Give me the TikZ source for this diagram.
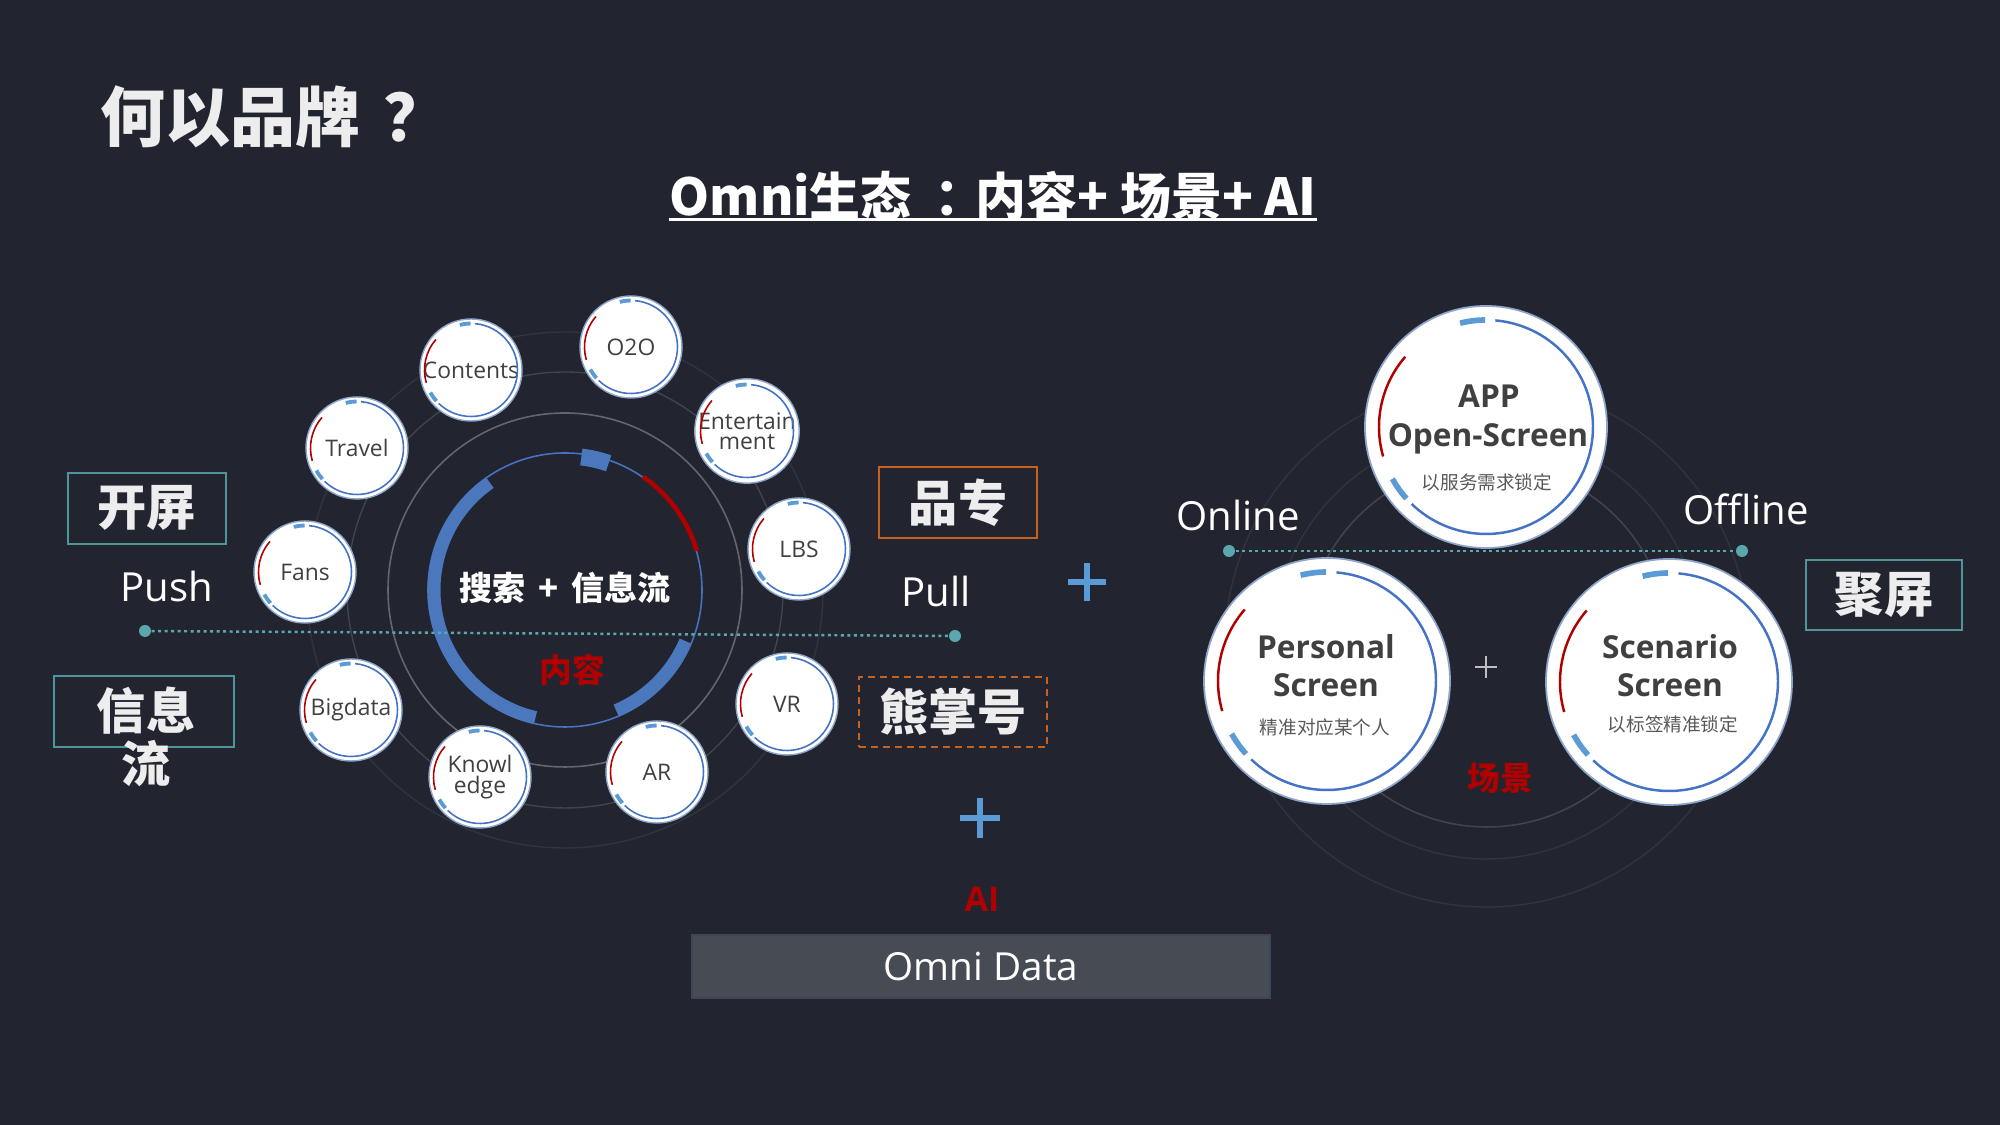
\documentclass[tikz,border=0pt]{standalone}
\usepackage{fontspec}
\setmainfont{Open Sans}
\newfontfamily\cjk{Noto Sans CJK SC}
\usetikzlibrary{calc}

\definecolor{bgnavy}{HTML}{22252F}
\definecolor{ringblue}{HTML}{4472C4}
\definecolor{arcblue}{HTML}{4B77BD}
\definecolor{lightblue}{HTML}{5B9BD5}
\definecolor{deepred}{HTML}{B00000}
\definecolor{ringgray}{HTML}{63666E}
\definecolor{faintgray}{HTML}{41444C}
\definecolor{dimgray}{HTML}{31343D}
\definecolor{tealline}{HTML}{4E969B}
\definecolor{dotteal}{HTML}{5AA7AE}
\definecolor{orangeline}{HTML}{C5631E}
\definecolor{txtgray}{HTML}{404040}
\definecolor{subgray}{HTML}{595959}
\definecolor{bubedge}{HTML}{8FA6CC}
\definecolor{datafill}{HTML}{474B54}
\definecolor{dataedge}{HTML}{3B4659}
\definecolor{plusgray}{HTML}{BFBFBF}
\definecolor{chalk}{HTML}{EDEDED}

\tikzset{
  bubble/.style={circle, fill=white, draw=bubedge, line width=0.4pt, minimum size=10.2mm, inner sep=0pt,
    text=txtgray, align=center, font=\fontsize{6.5}{5.8}\selectfont},
  bigbubble/.style={circle, fill=white, draw=bubedge, line width=0.5pt, minimum size=24.6mm, inner sep=0pt},
  bigtitle/.style={anchor=base, inner sep=0pt, text=txtgray, font=\bfseries\fontsize{9}{10}\selectfont},
  bignote/.style={anchor=base, inner sep=0pt, text=subgray, font=\cjk\fontsize{5.3}{6}\selectfont},
  tagbox/.style={draw=tealline, line width=0.6pt, minimum width=15.8mm, minimum height=7.1mm, inner sep=0pt,
    text=chalk, font=\cjk\bfseries\fontsize{14}{15.1}\selectfont},
  orangebox/.style={tagbox, draw=orangeline},
  sidelabel/.style={anchor=base, inner sep=0pt, text=white, font=\fontsize{11.4}{13}\selectfont},
  redmark/.style={inner sep=0pt, text=deepred, font=\cjk\bfseries\fontsize{9.3}{10}\selectfont},
  dotend/.style={circle, fill=dotteal, minimum size=1.2mm, inner sep=0pt},
  dotline/.style={dotteal, line width=0.7pt, dash pattern=on 0.85pt off 1pt},
  databar/.style={fill=datafill, draw=dataedge, line width=0.4pt, minimum width=57.8mm, minimum height=6.3mm,
    inner sep=0pt, text=white, font=\fontsize{11}{13}\selectfont}
}

\newcommand{\ringmarks}[4]{%
  \draw[ringblue, line width=#3] ([shift={(85:#2)}]#1.center) arc[start angle=85, end angle=-134, radius=#2];
  \draw[lightblue, line width=#4] ([shift={(90.5:#2)}]#1.center) arc[start angle=90.5, end angle=104, radius=#2];
  \draw[lightblue, line width=#4] ([shift={(209:#2)}]#1.center) arc[start angle=209, end angle=222, radius=#2];
  \draw[deepred, line width=#3] ([shift={(139:#2)}]#1.center) arc[start angle=139, end angle=196, radius=#2];
}
\newcommand{\plussign}[4]{%
  \draw[#4] (#1-#3,#2) -- (#1+#3,#2) (#1,#2-#3) -- (#1,#2+#3);
}

\begin{document}
\begin{tikzpicture}[x=0.1mm, y=0.1mm]
\useasboundingbox (0,0) rectangle (2000,1125);
\fill[bgnavy] (0,0) rectangle (2000,1125);

\node[anchor=west, inner sep=0pt, text=chalk, font=\cjk\bfseries\fontsize{18.5}{20}\selectfont] (question) at (100,1008) {何以品牌\hspace{0.35em}？};
\node[anchor=base, inner sep=0pt, text=white, font=\cjk\bfseries\fontsize{14.5}{16}\selectfont] (omnihead) at (993,909) {Omni生态\hspace{0.45em}：\hspace{-0.2em}内容+ 场景+ AI};
\draw[white, line width=0.85pt] ($(omnihead.base west)+(0,-4)$) -- ($(omnihead.base east)+(0,-4)$);

\coordinate (hub) at (565,535);
\draw[dimgray, line width=0.4pt] (hub) circle[radius=25.8mm];
\draw[faintgray, line width=0.4pt] (hub) circle[radius=21.8mm];
\draw[ringgray, line width=0.45pt] (hub) circle[radius=17.7mm];
\draw[ringblue, line width=0.45pt] (hub) circle[radius=13.7mm];
\draw[arcblue, line width=3.7pt] ([shift={(125:13.1mm)}]hub) arc[start angle=125, end angle=257, radius=13.1mm];
\draw[arcblue, line width=3.7pt] ([shift={(-67:13.1mm)}]hub) arc[start angle=-67, end angle=-23, radius=13.1mm];
\draw[arcblue, line width=4.8pt] ([shift={(71:13.4mm)}]hub) arc[start angle=71, end angle=83, radius=13.4mm];
\draw[deepred, line width=1.3pt] ([shift={(16.5:13.75mm)}]hub) arc[start angle=16.5, end angle=55.5, radius=13.75mm];

\node[text=white, font=\cjk\bfseries\fontsize{9.4}{10}\selectfont] (search) at (565,537) {搜索\hspace{0.4em}+\hspace{0.4em}信息流};
\node[redmark] (neirong) at (572,455) {内容};

\node[bubble] (contents) at (471,755) {Contents};
\node[bubble] (o2o) at (631,778) {O2O};
\node[bubble] (entertain) at (747,694) {Entertain\\ment};
\node[bubble] (lbs) at (799,576) {LBS};
\node[bubble] (vr) at (787,421) {VR};
\node[bubble] (ar) at (657,353) {AR};
\node[bubble] (knowledge) at (480,348) {Knowl\\edge};
\node[bubble] (bigdata) at (351,415) {Bigdata};
\node[bubble] (fans) at (305,553) {Fans};
\node[bubble] (travel) at (357,677) {Travel};
\foreach \b in {contents,o2o,entertain,lbs,vr,ar,knowledge,bigdata,fans,travel}
  {\ringmarks{\b}{4.65mm}{0.45pt}{1.1pt}}

\node[tagbox] (kaiping) at (147,616.5) {开屏};
\node[tagbox, minimum width=18mm] (xinxibox) at (144,413.5) {};
\node[text=chalk, align=center, font=\cjk\bfseries\fontsize{14}{15.1}\selectfont] (xinxi) at (146,388) {信息\\流};
\node[orangebox] (pinzhuan) at (958,622.5) {品专};
\node[orangebox, dash pattern=on 2pt off 1.4pt, minimum width=18.8mm, minimum height=7mm] (xiongzhang) at (953,413) {熊掌号};

\node[sidelabel] (push) at (167,523) {Push};
\node[sidelabel] (pull) at (936,518) {Pull};
\node[dotend] (pushdot) at (145,494) {};
\node[dotend] (pulldot) at (955,489) {};
\draw[dotline] (pushdot) -- (pulldot);

\plussign{1087}{543}{19}{lightblue, line width=1.45pt}
\plussign{980}{307}{20}{lightblue, line width=1.45pt}
\node[redmark, anchor=base, font=\bfseries\fontsize{9.7}{10}\selectfont] (ai) at (982,213) {AI};
\node[databar] (omnidata) at (981,158.5) {Omni Data};

\coordinate (scenehub) at (1487,480);
\draw[dimgray, line width=0.4pt] (scenehub) circle[radius=26.2mm];
\draw[dimgray, line width=0.4pt] (scenehub) circle[radius=21.4mm];
\draw[faintgray, line width=0.45pt] (scenehub) circle[radius=18.2mm];

\node[bigbubble, minimum size=24.2mm] (app) at (1486,698) {};
\node[bigbubble] (personal) at (1327,444) {};
\node[bigbubble] (scenario) at (1669,443) {};
\ringmarks{app}{10.7mm}{0.7pt}{1.6pt}
\ringmarks{personal}{10.9mm}{0.7pt}{1.6pt}
\ringmarks{scenario}{10.9mm}{0.7pt}{1.6pt}

\node[bigtitle] (apptop) at (1489,717) {APP};
\node[bigtitle] (appmid) at (1488,678) {Open-Screen};
\node[bignote] (appnote) at (1487,635) {以服务需求锁定};
\node[bigtitle] (personaltop) at (1326,466) {Personal};
\node[bigtitle] (personalmid) at (1326,428) {Screen};
\node[bignote] (personalnote) at (1325,390) {精准对应某个人};
\node[bigtitle] (scenariotop) at (1670,466) {Scenario};
\node[bigtitle] (scenariomid) at (1670,428) {Screen};
\node[bignote] (scenarionote) at (1673,393) {以标签精准锁定};

\plussign{1486}{458}{11}{plusgray, line width=0.8pt}
\node[redmark] (changjing) at (1500,347) {场景};

\node[sidelabel] (online) at (1238,594) {Online};
\node[sidelabel] (offline) at (1746,600) {Offline};
\node[dotend] (onlinedot) at (1229,574) {};
\node[dotend] (offlinedot) at (1742,574) {};
\draw[dotline] (onlinedot) -- (offlinedot);

\node[tagbox, minimum width=15.6mm, minimum height=7mm] (juping) at (1884,530) {聚屏};
\end{tikzpicture}
\end{document}
